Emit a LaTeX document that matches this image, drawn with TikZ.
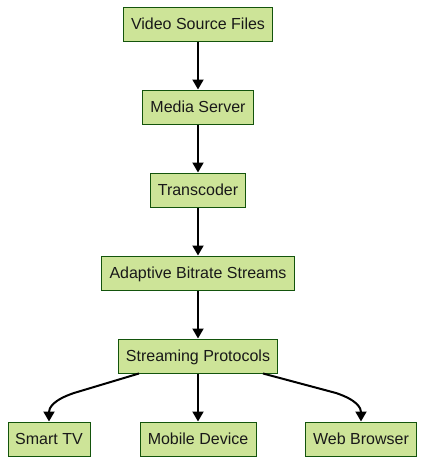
\documentclass[tikz,border=0pt]{standalone}
\usepackage{fontspec}
\setmainfont{Liberation Sans}
\usetikzlibrary{arrows.meta}
\definecolor{boxfill}{HTML}{CDE498}
\definecolor{boxline}{HTML}{13540C}
\tikzset{
  stepbox/.style={draw=boxline, fill=boxfill, line width=1pt, minimum height=34pt, inner sep=0pt, text height=11pt, text depth=0.4pt, font=\fontsize{16}{19}\selectfont, text=black!90},
  arr/.style={draw=black, line width=2pt, -{Triangle[length=10pt,width=11pt]}}
}
\begin{document}
\begin{tikzpicture}[x=1pt,y=-1pt]
\useasboundingbox (0,0) rectangle (425,464);
\node[stepbox, minimum width=149pt] (vsf) at (198,24) {Video Source Files};
\node[stepbox, minimum width=111pt] (ms) at (198,107) {Media Server};
\node[stepbox, minimum width=95pt] (tc) at (198,190) {Transcoder};
\node[stepbox, minimum width=193pt] (abs) at (198,273) {Adaptive Bitrate Streams};
\node[stepbox, minimum width=159pt] (sp) at (198,356) {Streaming Protocols};
\node[stepbox, minimum width=82pt] (tv) at (49,439) {Smart TV};
\node[stepbox, minimum width=116pt] (md) at (198,439) {Mobile Device};
\node[stepbox, minimum width=111pt] (wb) at (361,439) {Web Browser};
\draw[arr] (vsf) -- (ms);
\draw[arr] (ms) -- (tc);
\draw[arr] (tc) -- (abs);
\draw[arr] (abs) -- (sp);
\draw[arr] (sp) -- (md);
\draw[arr] ([xshift=-59pt]sp.south) -- (74,393) .. controls (53,400) and (49,408) .. (tv.north);
\draw[arr] ([xshift=65pt]sp.south) -- (336,393) .. controls (357,400) and (361,408) .. (wb.north);
\end{tikzpicture}
\end{document}
